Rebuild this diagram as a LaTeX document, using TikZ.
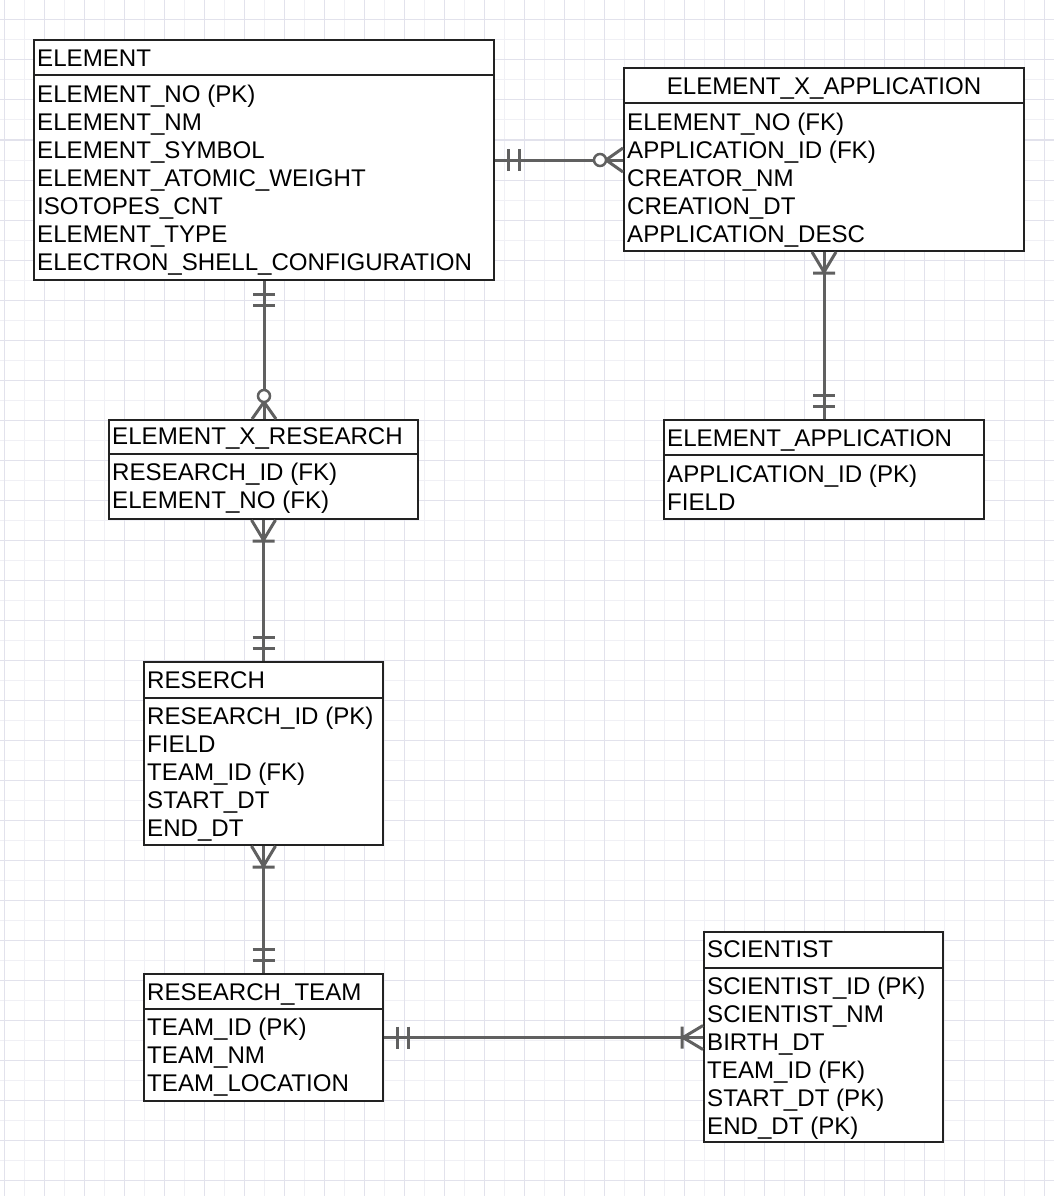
\documentclass[tikz,border=0pt]{standalone}
\usepackage{fontspec}
\setmainfont{Liberation Sans}
\usetikzlibrary{fit,calc}
\definecolor{boxc}{HTML}{222222}
\definecolor{relc}{HTML}{606060}
\definecolor{gridminor}{HTML}{F0F0F5}
\definecolor{gridmajor}{HTML}{E2E2EC}
\tikzset{
  ebox/.style={draw=boxc, line width=2pt, fill=white, inner sep=0pt, rectangle},
  sepline/.style={draw=boxc, line width=2pt},
  etext/.style={inner sep=0pt, font=\fontsize{24.1}{28}\selectfont, text=black},
  rel/.style={draw=relc, line width=3pt},
  twobar/.pic={\draw[rel] (13,-11) -- (13,11) (24,-11) -- (24,11);},
  zeromany/.pic={\draw[rel] (0,-12) -- (17,0) -- (0,12);
                 \draw[rel, line width=2.5pt, fill=white] (23,0) circle[radius=6];},
  onemany/.pic={\draw[rel] (0,-12) -- (20,0) -- (0,12) (21,-11) -- (21,11);}
}
% #1 name, #2 x1, #3 y1, #4 x2, #5 y2, #6 yline, #7 first row baseline, #8 rows
\newcommand\erent[8]{%
  \node[ebox, fit={(#2,#3) (#4,#5)}] (#1) {};
  \draw[sepline] (#2,#6) -- (#4,#6);
  \foreach \t [count=\i from 0] in {#8}
    \node[etext, anchor=base west] (#1-r\i) at (#2+3, #7+28*\i) {\t};
}
\begin{document}
\begin{tikzpicture}[x=1pt,y=-1pt]
\useasboundingbox (0,0) rectangle (1054,1196);
\fill[white] (0,0) rectangle (1054,1196);
\begin{scope}
  \clip (0,0) rectangle (1054,1196);
  \foreach \x in {4,24,...,1054} \draw[gridminor, line width=1pt] (\x,0) -- (\x,1196);
  \foreach \y in {0,20,...,1196} \draw[gridminor, line width=1pt] (0,\y) -- (1054,\y);
  \foreach \x in {4,44,...,1054} \draw[gridmajor, line width=1pt] (\x,0) -- (\x,1196);
  \foreach \y in {20,60,...,1196} \draw[gridmajor, line width=1pt] (0,\y) -- (1054,\y);
\end{scope}

% entities
\erent{element}{34}{40}{494}{280}{75}{102.5}{ELEMENT\_NO (PK),ELEMENT\_NM,ELEMENT\_SYMBOL,ELEMENT\_ATOMIC\_WEIGHT,ISOTOPES\_CNT,ELEMENT\_TYPE,ELECTRON\_SHELL\_CONFIGURATION}
\node[etext, anchor=base west] (element-h) at (37,66.5) {ELEMENT};

\erent{exapp}{624}{68}{1024}{251}{103}{130.5}{ELEMENT\_NO (FK),APPLICATION\_ID (FK),CREATOR\_NM,CREATION\_DT,APPLICATION\_DESC}
\node[etext, anchor=base] (exapp-h) at (824,94.5) {ELEMENT\_X\_APPLICATION};

\erent{exres}{109}{420}{418}{519}{454}{480.5}{RESEARCH\_ID (FK),ELEMENT\_NO (FK)}
\node[etext, anchor=base west] (exres-h) at (112,444.5) {ELEMENT\_X\_RESEARCH};

\erent{eapp}{664}{420}{984}{519}{455}{482.5}{APPLICATION\_ID (PK),FIELD}
\node[etext, anchor=base west] (eapp-h) at (667,446.5) {ELEMENT\_APPLICATION};

\erent{resr}{144}{662}{383}{845}{698}{724.5}{RESEARCH\_ID (PK),FIELD,TEAM\_ID (FK),START\_DT,END\_DT}
\node[etext, anchor=base west] (resr-h) at (147,688.5) {RESERCH};

\erent{rteam}{144}{974}{383}{1101}{1009}{1035.5}{TEAM\_ID (PK),TEAM\_NM,TEAM\_LOCATION}
\node[etext, anchor=base west] (rteam-h) at (147,1000.5) {RESEARCH\_TEAM};

\erent{sci}{704}{932}{943}{1142}{968}{994.5}{SCIENTIST\_ID (PK),SCIENTIST\_NM,BIRTH\_DT,TEAM\_ID (FK),START\_DT (PK),END\_DT (PK)}
\node[etext, anchor=base west] (sci-h) at (707,957.5) {SCIENTIST};

% relationships
\draw[rel] (element.east) -- (element.east -| exapp.west);
\draw[rel] (element.south) -- (element.south |- exres.north);
\draw[rel] (exapp.south) -- (exapp.south |- eapp.north);
\draw[rel] (exres.south) -- (exres.south |- resr.north);
\draw[rel] (resr.south) -- (resr.south |- rteam.north);
\draw[rel] (rteam.east) -- (rteam.east -| sci.west);

\pic[rotate=0] at (element.east) {twobar};
\pic[rotate=180] at (element.east -| exapp.west) {zeromany};
\pic[rotate=-90] at (element.south) {twobar};
\pic[rotate=90] at (element.south |- exres.north) {zeromany};
\pic[rotate=-90] at (exapp.south) {onemany};
\pic[rotate=90] at (exapp.south |- eapp.north) {twobar};
\pic[rotate=-90] at (exres.south) {onemany};
\pic[rotate=90] at (exres.south |- resr.north) {twobar};
\pic[rotate=-90] at (resr.south) {onemany};
\pic[rotate=90] at (resr.south |- rteam.north) {twobar};
\pic[rotate=0] at (rteam.east) {twobar};
\pic[rotate=180] at (rteam.east -| sci.west) {onemany};
\end{tikzpicture}
\end{document}
